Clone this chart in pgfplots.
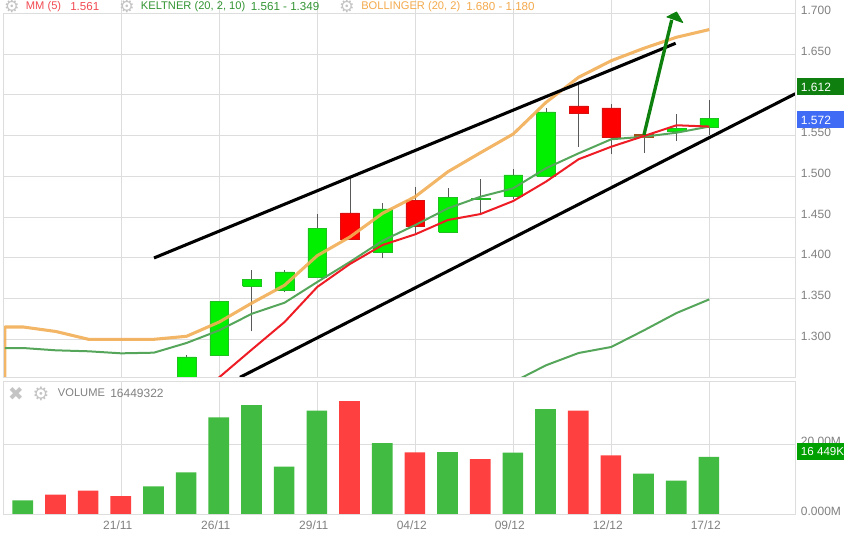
\documentclass[border=0pt]{standalone}
\usepackage{pgfplots}
\pgfplotsset{compat=1.18}
\usepackage{fontspec}
\setmainfont{Liberation Sans}
\newfontfamily\sym{DejaVu Sans}
\definecolor{gridc}{HTML}{DDDDDD}
\definecolor{ticktxt}{HTML}{808080}
\definecolor{cg}{HTML}{00F000}
\definecolor{cgd}{HTML}{20C020}
\definecolor{cr}{HTML}{FF0000}
\definecolor{crd}{HTML}{D81010}
\definecolor{cb}{HTML}{A0501A}
\definecolor{mm}{HTML}{EE1C25}
\definecolor{kelt}{HTML}{55A65A}
\definecolor{boll}{HTML}{F2AE55}
\definecolor{volg}{HTML}{41BB41}
\definecolor{volr}{HTML}{FF4040}
\definecolor{arrowg}{HTML}{0E800E}
\definecolor{icon}{HTML}{C4C4C4}
\definecolor{tagg}{HTML}{0F7F0F}
\definecolor{tagb}{HTML}{3F6BF5}
\definecolor{tagv}{HTML}{00A000}
\newcommand\candle[7]{%
  \addplot[forget plot,draw=black!65,line width=0.6pt] coordinates {(#1,#2) (#1,#3)};
  \pgfmathsetmacro\xl{#1-0.286}\pgfmathsetmacro\xr{#1+0.286}
  \addplot[forget plot,fill=#6,draw=#7,line width=0.5pt] coordinates {(\xl,#4) (\xr,#4) (\xr,#5) (\xl,#5) (\xl,#4)};
}
\begin{document}
\begin{tikzpicture}
\path[use as bounding box] (0,0) rectangle (636pt,400.5pt);
\begin{axis}[
  anchor=south west, at={(2.475pt,117.525pt)}, scale only axis,
  width=594pt, height=282.975pt,
  xmin=-0.609, xmax=23.633, ymin=1.2534, ymax=1.7163,
  axis line style={draw=none}, tick style={draw=none},
  grid=major, grid style={gridc,line width=0.75pt},
  xtick={3,6,9,12,15,18,21}, xticklabels={},
  ytick={1.3,1.35,1.4,1.45,1.5,1.55,1.6,1.65,1.7},
  yticklabels={1.300,1.350,1.400,1.450,1.500,1.550,1.600,1.650,1.700},
  yticklabel pos=right,
  yticklabel style={anchor=west,inner sep=0pt,xshift=4pt,yshift=2.3pt,font=\fontsize{9}{9}\selectfont,text=ticktxt},
  major tick length=0pt,
  clip=true,
]
\candle{5}{1.20}{1.2804}{1.20}{1.2783}{cg}{cgd}
\candle{6}{1.2804}{1.3466}{1.2804}{1.3466}{cg}{cgd}
\candle{7}{1.3098}{1.3847}{1.365}{1.3736}{cg}{cgd}
\candle{8}{1.358}{1.385}{1.3596}{1.3826}{cg}{cgd}
\candle{9}{1.3756}{1.4537}{1.3756}{1.4362}{cg}{cgd}
\candle{10}{1.4222}{1.4975}{1.4222}{1.455}{cr}{crd}
\candle{11}{1.3994}{1.4676}{1.4067}{1.4599}{cg}{cgd}
\candle{12}{1.430}{1.4865}{1.4382}{1.4709}{cr}{crd}
\candle{13}{1.4313}{1.4853}{1.4313}{1.4742}{cg}{cgd}
\candle{14}{1.4537}{1.4967}{1.4713}{1.473}{cg}{cgd}
\candle{15}{1.4718}{1.509}{1.475}{1.5016}{cg}{cgd}
\candle{16}{1.5}{1.5842}{1.5}{1.5789}{cg}{cgd}
\candle{17}{1.5363}{1.612}{1.5768}{1.5863}{cr}{crd}
\candle{18}{1.5274}{1.5887}{1.5474}{1.5838}{cr}{crd}
\candle{19}{1.529}{1.551}{1.5478}{1.551}{cb}{cb}
\candle{20}{1.5437}{1.5764}{1.5547}{1.5589}{cg}{cgd}
\candle{21}{1.5507}{1.594}{1.5601}{1.5712}{cg}{cgd}
% Bollinger upper band
\addplot[forget plot,boll,opacity=0.9,line width=2.3pt,line join=round] coordinates {
(-0.56,1.18)(-0.56,1.3151)(0,1.3151)(1,1.3096)(2,1.3)(3,1.3)(4,1.3)(5,1.3037)(6,1.3212)(7,1.3445)(8,1.3663)(9,1.4026)(10,1.4255)(11,1.4546)(12,1.475)(13,1.5056)(14,1.529)(15,1.5519)(16,1.5906)(17,1.6215)(18,1.6418)(19,1.6571)(20,1.6706)(21,1.68)};
% Keltner upper
\addplot[forget plot,kelt,line width=1.5pt,line join=round] coordinates {
(-0.56,1.2893)(0,1.2893)(1,1.2865)(2,1.2853)(3,1.2828)(4,1.2836)(5,1.2955)(6,1.3110)(7,1.3314)(8,1.3449)(9,1.3703)(10,1.3949)(11,1.4210)(12,1.4402)(13,1.4607)(14,1.475)(15,1.4853)(16,1.5098)(17,1.5282)(18,1.5454)(19,1.5486)(20,1.5535)(21,1.561)};
% Keltner lower
\addplot[forget plot,kelt,line width=1.5pt,line join=round] coordinates {
(15,1.2476)(16,1.2681)(17,1.2832)(18,1.2906)(19,1.311)(20,1.3323)(21,1.349)};
% MM 5
\addplot[forget plot,mm,line width=1.5pt,line join=round] coordinates {
(5,1.2193)(6,1.2534)(7,1.2875)(8,1.3212)(9,1.3642)(10,1.3924)(11,1.4157)(12,1.4288)(13,1.4464)(14,1.4537)(15,1.4697)(16,1.4934)(17,1.5209)(18,1.5363)(19,1.5494)(20,1.5626)(21,1.561)};
% hand drawn trend lines
\addplot[forget plot,black,line width=2.3pt] coordinates {(4.004,1.3998)(19.97,1.6632)};
\addplot[forget plot,black,line width=2.3pt] coordinates {(6.636,1.2534)(23.633,1.6013)};
% hand drawn arrow
\addplot[forget plot,arrowg,line width=2.5pt] coordinates {(19,1.5507)(19.85,1.6918)};
\addplot[forget plot,fill=arrowg,draw=arrowg,line width=0.6pt,line join=round] coordinates {(20.0,1.7016)(19.70,1.6955)(20.19,1.6886)(20.0,1.7016)};
\end{axis}
\begin{axis}[
  anchor=south west, at={(2.475pt,14.475pt)}, scale only axis,
  width=594pt, height=100.05pt,
  xmin=-0.609, xmax=23.633, ymin=0, ymax=37.9,
  axis line style={draw=none}, tick style={draw=none},
  grid=major, grid style={gridc,line width=0.75pt},
  xtick={3,6,9,12,15,18,21},
  xticklabels={21/11,26/11,29/11,04/12,09/12,12/12,17/12},
  xticklabel style={font=\fontsize{9}{9}\selectfont,text=ticktxt,xshift=-2.6pt,anchor=north,inner sep=0pt,yshift=-4.4pt},
  ytick={0,20}, yticklabels={\raisebox{-1.6pt}{0.000M},20.00M},
  yticklabel pos=right,
  yticklabel style={anchor=west,inner sep=0pt,xshift=4pt,yshift=2.3pt,font=\fontsize{9}{9}\selectfont,text=ticktxt},
  major tick length=0pt,
  ybar, bar width=15.5pt,
]
\addplot[forget plot,fill=volg,draw=none,bar shift=-0.3pt] coordinates {(0,4.08)(4,8.05)(5,12.03)(6,27.66)(7,31.15)(8,13.64)(9,29.55)(11,20.36)(13,17.8)(15,17.6)(16,30.02)(19,11.65)(20,9.66)(21,16.449)};
\addplot[forget plot,fill=volr,draw=none,bar shift=-0.3pt] coordinates {(1,5.68)(2,6.82)(3,5.30)(10,32.29)(12,17.71)(14,15.82)(17,29.55)(18,16.86)};
\end{axis}
\begin{scope}[yshift=400.5pt,x=0.75pt,y=-0.75pt]
% panel borders
\draw[gridc,line width=0.75pt] (3.3,13.3)--(3.3,377.3)--(795.3,377.3)--(795.3,0);
\draw[gridc,line width=0.75pt] (3.3,381.3)--(795.3,381.3)--(795.3,514.7)--(3.3,514.7);
\draw[gridc,line width=0.75pt] (3.3,381.3)--(3.3,514.7);
% value tags
\fill[tagg] (797.3,77.7) rectangle (844,95);
\fill[tagb] (797.3,110.7) rectangle (844,127.7);
\fill[tagv] (797.3,443) rectangle (844,459.7);
\fill[white] (797,515.8) rectangle (848,534);
\tikzset{lab/.style={anchor=west,inner sep=0pt,font=\fontsize{9}{9}\selectfont},
  head/.style={anchor=west,inner sep=0pt,font=\fontsize{8.35}{9}\selectfont},
  headv/.style={anchor=west,inner sep=0pt,font=\fontsize{8.7}{9}\selectfont}}
\node[lab,text=white] at (800.7,87) {1.612};
\node[lab,text=white] at (800.7,120) {1.572};
\node[anchor=west,inner sep=0pt,font=\fontsize{8.7}{9}\selectfont,text=white] at (800.7,451.5) {16 449K};
% header
\node[anchor=center,inner sep=0pt,text=icon,font=\sym\fontsize{13}{13}\selectfont] at (12,6.5) {⚙};
\node[anchor=center,inner sep=0pt,text=icon,font=\sym\fontsize{13}{13}\selectfont] at (127,6.5) {⚙};
\node[anchor=center,inner sep=0pt,text=icon,font=\sym\fontsize{13}{13}\selectfont] at (347,6.5) {⚙};
\node[head,text=mm!80!white] at (25.7,7) {MM (5)};
\node[headv,text=mm!80!white] at (70,7) {1.561};
\node[head,text=arrowg!85!white] at (140.7,7) {KELTNER (20, 2, 10)};
\node[headv,text=arrowg!85!white] at (250.7,7) {1.561 - 1.349};
\node[head,text=boll!90!orange] at (361,7) {BOLLINGER (20, 2)};
\node[headv,text=boll!90!orange] at (466,7) {1.680 - 1.180};
% volume header
\node[anchor=center,inner sep=0pt,text=icon,font=\sym\fontsize{14}{14}\selectfont] at (16,393.5) {✖};
\node[anchor=center,inner sep=0pt,text=icon,font=\sym\fontsize{14}{14}\selectfont] at (41,393.5) {⚙};
\node[head,text=ticktxt] at (57.7,393) {VOLUME};
\node[lab,text=ticktxt] at (110,393) {16449322};
\end{scope}
\end{tikzpicture}
\end{document}
